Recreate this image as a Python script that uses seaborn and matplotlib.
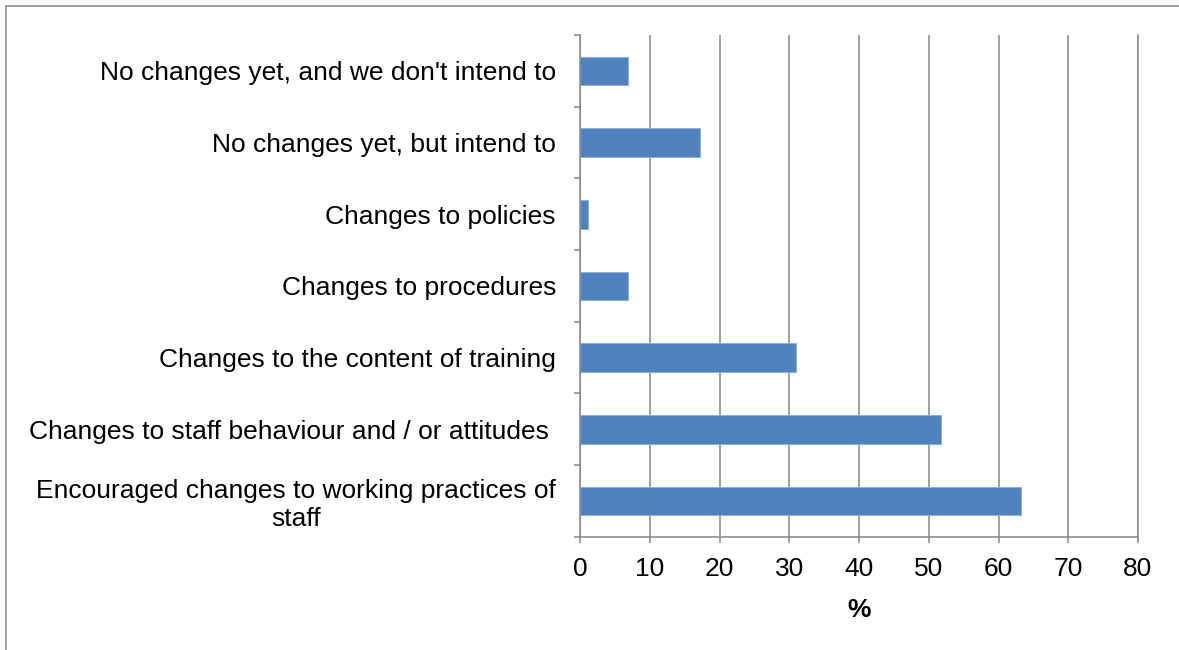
import matplotlib
matplotlib.use("Agg")
import matplotlib.pyplot as plt
import numpy as np
import pandas as pd
import seaborn as sns
from matplotlib.lines import Line2D

# Survey responses: what changed as a result of the programme (% of respondents)
categories = [
    "No changes yet, and we don't intend to",
    "No changes yet, but intend to",
    "Changes to policies",
    "Changes to procedures",
    "Changes to the content of training",
    "Changes to staff behaviour and / or attitudes ",
    "Encouraged changes to working practices of\nstaff",
]
percent = [6.9, 17.2, 1.1, 6.9, 31.0, 51.7, 63.2]
x_ticks = [0, 10, 20, 30, 40, 50, 60, 70, 80]
x_label = "%"

BAR = "#4F81BD"
GRID = "#878787"
FS = 19

sns.set_style("white")
plt.rcParams["font.family"] = ["Liberation Sans", "DejaVu Sans"]
plt.rcParams["text.color"] = "black"
plt.rcParams["axes.labelcolor"] = "black"
plt.rcParams["xtick.color"] = "black"
plt.rcParams["ytick.color"] = "black"

W, H = 1179, 650
fig = plt.figure(figsize=(W / 100, H / 100), dpi=100)
left, right, top, bottom = 580, 1138, 35, 536.7
ax = fig.add_axes([left / W, 1 - bottom / H, (right - left) / W, (bottom - top) / H])

df = pd.DataFrame({"category": categories, "percent": percent})
sns.barplot(data=df, x="percent", y="category", orient="h", color=BAR,
            saturation=1, width=0.4, edgecolor="#8FAEDA", linewidth=0.8, ax=ax)

ax.set_xlim(0, 80)
ax.set_xticks(x_ticks)
ax.set_xticklabels([str(t) for t in x_ticks])
ax.xaxis.grid(True, color=GRID, linewidth=1.1)
ax.yaxis.grid(False)
ax.set_axisbelow(True)

for side in ("left", "bottom", "right"):
    ax.spines[side].set_visible(True)
    ax.spines[side].set_color(GRID)
    ax.spines[side].set_linewidth(1.1)
ax.spines["top"].set_visible(False)

ax.set_ylabel("")
ax.set_xlabel(x_label, fontsize=FS, fontweight="bold", labelpad=12.5, color="black")

# category boundaries carry the tick marks, labels sit at the centres
ax.set_yticks(np.arange(-0.5, len(categories), 1), minor=True)
ax.tick_params(axis="y", which="major", left=True, length=0, pad=17.3,
               labelsize=FS, labelcolor="black")
ax.tick_params(axis="y", which="minor", left=True, length=4.3, width=1.1,
               color=GRID, direction="out")
ax.tick_params(axis="x", which="major", bottom=True, length=4.3, width=1.1, color=GRID,
               direction="out", labelsize=FS, labelcolor="black", pad=10)
for t in ax.get_yticklabels():
    t.set_multialignment("center")

# chart frame
fig.add_artist(Line2D([6 / W, 1.0], [1 - 6 / H, 1 - 6 / H], color=GRID, linewidth=1.1,
                      transform=fig.transFigure))
fig.add_artist(Line2D([6 / W, 6 / W], [1 - 6 / H, 0.0], color=GRID, linewidth=1.1,
                      transform=fig.transFigure))

fig.savefig("out.png", dpi=100)
